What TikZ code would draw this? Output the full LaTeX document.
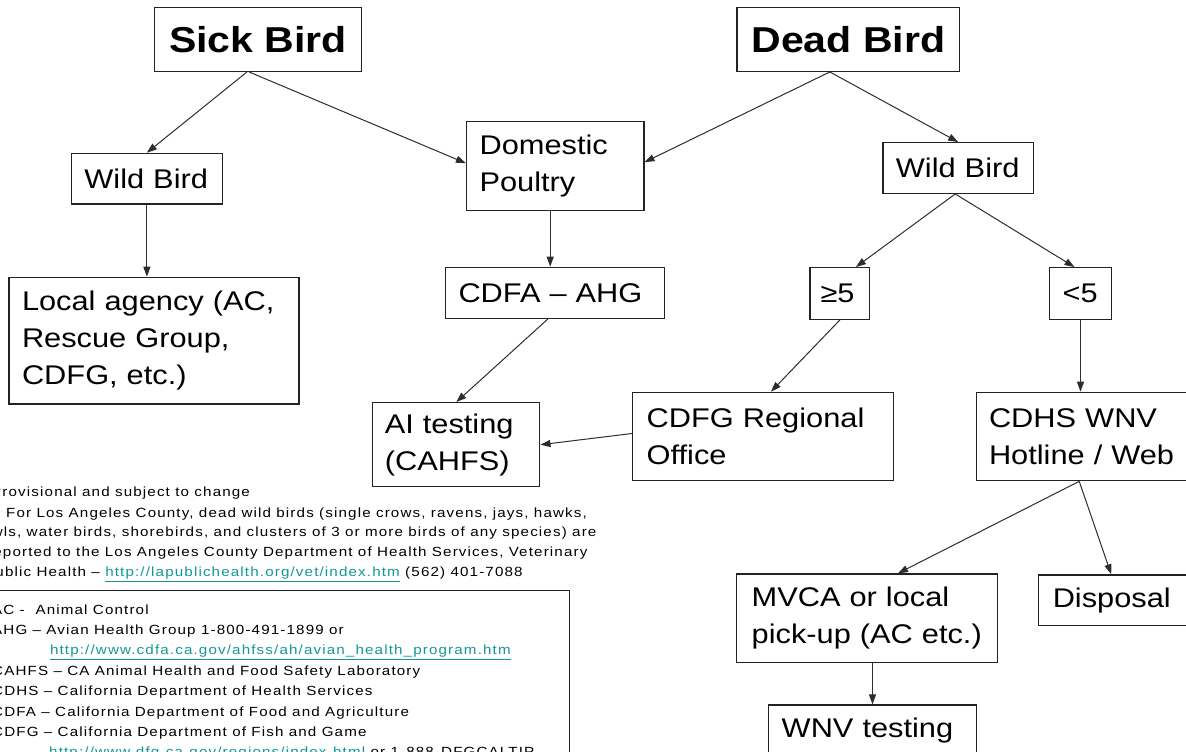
\documentclass[tikz,border=0pt]{standalone}
\usepackage{fontspec}
\setmainfont{Liberation Sans}[FakeStretch=1.14]
\newfontfamily\smallf{Liberation Sans}[FakeStretch=1.14,LetterSpace=8.6]
\usetikzlibrary{arrows.meta}
\definecolor{boxc}{RGB}{35,35,35}
\definecolor{arrc}{RGB}{45,45,45}
\definecolor{linkc}{RGB}{20,150,150}
\newcommand{\lnk}[1]{\textcolor{linkc}{\underline{#1}}}
\begin{document}
\begin{tikzpicture}[x=1pt,y=-1pt,
  box/.style={draw=boxc,line width=1.3pt,inner xsep=13pt,inner ysep=0pt,align=left,font=\fontsize{27}{37}\selectfont},
  title/.style={draw=boxc,line width=1.3pt,inner sep=0pt,align=center,font=\fontsize{36}{40}\selectfont\bfseries},
  arr/.style={draw=arrc,line width=1pt,-{Triangle[length=10pt,width=7pt]}},
  small/.style={inner sep=0pt,anchor=base west,font=\smallf\fontsize{13.3}{20}\selectfont},
]
\useasboundingbox (0,0) rectangle (1186,752);
\clip (0,0) rectangle (1186,752);

% top titles
\node[title,minimum width=207pt,minimum height=64pt] (sick) at (258,39.3) {Sick Bird};
\node[title,minimum width=222.4pt,minimum height=64pt] (dead) at (848.3,39.3) {Dead Bird};

% left branch
\node[box,text width=125pt,minimum height=50.7pt] (wildL) at (146.9,178.7) {\mbox{Wild Bird}};
\node[box,text width=264pt,minimum height=126.7pt] (local) at (154,340.7) {\mbox{Local agency (AC,}\\\mbox{Rescue Group,}\\\mbox{CDFG, etc.)}};

% middle
\node[box,text width=151.3pt,minimum height=89pt] (dom) at (555.2,166.2) {\mbox{Domestic}\\\mbox{Poultry}};
\node[box,text width=192.8pt,minimum height=51pt] (cdfa) at (554.9,292.8) {\mbox{CDFA – AHG}};
\node[box,inner xsep=12pt,text width=143pt,minimum height=84pt] (ai) at (456.3,444.7) {\mbox{AI testing}\\\mbox{(CAHFS)}};

% right branch
\node[box,text width=124.6pt,minimum height=50.6pt] (wildR) at (958.2,168) {\mbox{Wild Bird}};
\node[box,inner xsep=10.5pt,text width=38.8pt,minimum height=51.6pt] (ge5) at (839.9,293.5) {\mbox{≥5}};
\node[box,inner xsep=13.4pt,text width=35.8pt,minimum height=51.6pt] (lt5) at (1080.5,293.5) {\mbox{<5}};
\node[box,inner xsep=14pt,text width=232.6pt,minimum height=88.4pt] (cdfg) at (763,436.5) {\mbox{CDFG Regional}\\\mbox{Office}};
\node[box,inner xsep=12.6pt,text width=188.4pt,minimum height=88.4pt] (cdhs) at (1083.2,436.5) {\mbox{CDHS WNV}\\\mbox{Hotline / Web}};
\node[box,inner xsep=15pt,text width=230.6pt,minimum height=88.7pt] (mvca) at (867,618.3) {\mbox{MVCA or local}\\\mbox{pick-up (AC etc.)}};
\node[box,inner xsep=14.4pt,text width=122.9pt,minimum height=50.7pt] (disp) at (1114.2,600.3) {\mbox{Disposal}};
\node[box,inner xsep=13.4pt,text width=181.6pt,minimum height=52pt] (wnv) at (872.5,731) {\mbox{WNV testing}};

% connectors
\draw[arr] ([xshift=-11pt]sick.south) -- (wildL.north);
\draw[arr] ([xshift=-9pt]sick.south) -- ([yshift=3pt]dom.west);
\draw[arr] ([xshift=-18.5pt]dead.south) -- ([yshift=4pt]dom.east);
\draw[arr] ([xshift=-18.5pt]dead.south) -- (wildR.north);
\draw[arr] (wildL.south) -- (wildL.south |- local.north);
\draw[arr] ([xshift=-5pt]dom.south) -- ([xshift=-5pt]dom.south |- cdfa.north);
\draw[arr] ([xshift=-7pt]cdfa.south) -- (ai.north);
\draw[arr] ([yshift=3pt]cdfg.west) -- (ai.east);
\draw[arr] ([xshift=-3pt]wildR.south) -- ([xshift=16pt]ge5.north);
\draw[arr] ([xshift=-3pt]wildR.south) -- ([xshift=-6pt]lt5.north);
\draw[arr] (ge5.south) -- ([xshift=8pt]cdfg.north);
\draw[arr] (lt5.south) -- (lt5.south |- cdhs.north);
\draw[arr] ([xshift=-4pt]cdhs.south) -- ([xshift=31pt]mvca.north);
\draw[arr] ([xshift=-4pt]cdhs.south) -- ([xshift=-3pt]disp.north);
\draw[arr] (wnv.north |- mvca.south) -- (wnv.north);

% notes
\node[small] (p1) at (-9,496.7) {Provisional and subject to change};
\node[small] (p2) at (6,517.3) {For Los Angeles County, dead wild birds (single crows, ravens, jays, hawks,};
\node[small] (p3) at (-18,536.7) {owls, water birds, shorebirds, and clusters of 3 or more birds of any species) are};
\node[small] (p4) at (-13,556.7) {reported to the Los Angeles County Department of Health Services, Veterinary};
\node[small] (p5) at (-16,576.7) {Public Health – \lnk{http://lapublichealth.org/vet/index.htm} (562) 401-7088};

% legend
\node[draw=boxc,line width=1pt,inner sep=0pt,minimum width=590pt,minimum height=200pt,anchor=north east] (legend) at (570,590) {};
\node[small] (g1) at (-8,614) {AC - \ Animal Control};
\node[small] (g2) at (-8,634.4) {AHG – Avian Health Group 1-800-491-1899 or};
\node[small] (g3) at (49.8,654.8) {\lnk{http://www.cdfa.ca.gov/ahfss/ah/avian\_health\_program.htm}};
\node[small] (g4) at (-8,675.2) {CAHFS – CA Animal Health and Food Safety Laboratory};
\node[small] (g5) at (-8,695.6) {CDHS – California Department of Health Services};
\node[small] (g6) at (-8,716) {CDFA – California Department of Food and Agriculture};
\node[small] (g7) at (-8,736.4) {CDFG – California Department of Fish and Game};
\node[small] (g8) at (49,756.8) {\lnk{http://www.dfg.ca.gov/regions/index.html} or 1-888-DFGCALTIP};
\end{tikzpicture}
\end{document}
